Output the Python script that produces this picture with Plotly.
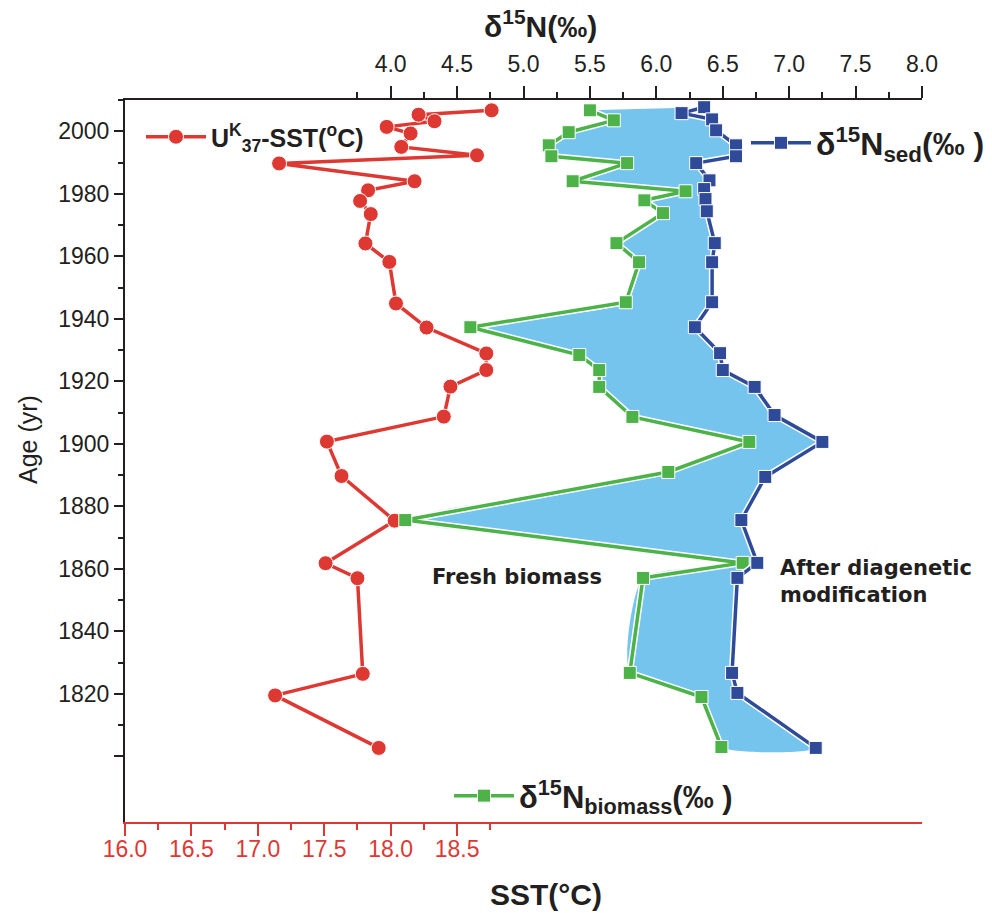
import plotly.graph_objects as go

# ---- U37K sea-surface temperature (bottom axis) ----
sst_age = [2006.7, 2005.3, 2003.2, 2001.4, 1999.3, 1995.0, 1992.3, 1989.7, 1984.0, 1981.1,
           1977.7, 1973.5, 1964.1, 1958.2, 1944.9, 1937.2, 1928.9, 1923.6, 1918.3, 1908.7,
           1900.7, 1889.7, 1875.4, 1861.8, 1857.0, 1826.4, 1819.5, 1802.7]
sst = [18.76, 18.21, 18.33, 17.97, 18.15, 18.08, 18.65, 17.16, 18.18, 17.83,
       17.77, 17.85, 17.81, 17.99, 18.04, 18.27, 18.72, 18.72, 18.45, 18.40,
       17.52, 17.63, 18.03, 17.51, 17.75, 17.79, 17.13, 17.91]

# ---- bulk sediment d15N (top axis) ----
sed_age = [2007.7, 2005.8, 2003.8, 2000.3, 1995.5, 1992.0, 1989.8, 1984.3, 1981.5, 1978.3,
           1974.4, 1964.2, 1958.1, 1945.3, 1937.3, 1929.0, 1923.6, 1918.2, 1909.2, 1900.6,
           1889.4, 1875.6, 1861.9, 1857.1, 1826.7, 1820.3, 1802.7]
d15n_sed = [6.36, 6.19, 6.42, 6.45, 6.60, 6.60, 6.30, 6.40, 6.36, 6.37,
            6.38, 6.44, 6.42, 6.42, 6.29, 6.48, 6.50, 6.74, 6.89, 7.25,
            6.82, 6.64, 6.76, 6.61, 6.57, 6.61, 7.20]

# ---- fresh biomass d15N (top axis) ----
bio_age = [2006.7, 2003.5, 1999.7, 1995.5, 1992.0, 1989.8, 1984.0, 1980.8, 1977.9, 1973.8,
           1964.2, 1958.1, 1945.3, 1937.3, 1928.4, 1923.6, 1918.2, 1908.6, 1900.6, 1891.0,
           1875.6, 1861.9, 1857.1, 1826.7, 1819.0, 1803.0]
d15n_bio = [5.50, 5.68, 5.34, 5.19, 5.21, 5.78, 5.37, 6.22, 5.91, 6.05,
            5.70, 5.87, 5.77, 4.60, 5.42, 5.57, 5.57, 5.82, 6.70, 6.09,
            4.11, 6.65, 5.90, 5.80, 6.34, 6.49]

# ---- axis ticks ----
age_ticks = list(range(1800, 2001, 20))
age_labels = ["" if a == 1800 else str(a) for a in age_ticks]
age_minor = list(range(1810, 2011, 20))
n_ticks = [4.0, 4.5, 5.0, 5.5, 6.0, 6.5, 7.0, 7.5, 8.0]
n_minor = [3.75, 4.25, 4.75, 5.25, 5.75, 6.25, 6.75, 7.25, 7.75]
sst_ticks = [16.0, 16.5, 17.0, 17.5, 18.0, 18.5]
sst_minor = [16.25, 16.75, 17.25, 17.75, 18.25, 18.75]

RED = "#DE3832"
GREEN = "#4DB248"
BLUE = "#2F4A98"
FILL = "#74C4EE"
INK = "#231F20"
BASE_FONT = "Liberation Sans, Arial, sans-serif"

fig = go.Figure()

# diagenetic offset band between fresh biomass and sediment
fig.add_trace(go.Scatter(
    x=d15n_bio + d15n_sed[::-1], y=bio_age + sed_age[::-1],
    xaxis="x2", yaxis="y", mode="lines", fill="toself", fillcolor=FILL,
    line=dict(width=0, shape="spline", smoothing=0.6, color=FILL),
    showlegend=False, hoverinfo="skip"))

# SST profile
fig.add_trace(go.Scatter(
    x=sst, y=sst_age, xaxis="x", yaxis="y", mode="lines+markers",
    name="<b>U<sup>K</sup><sub>37</sub>-SST(<sup>o</sup>C)</b>",
    line=dict(color=RED, width=3.5),
    marker=dict(symbol="circle", size=15, color=RED, line=dict(color="white", width=1)),
    legend="legend"))

# biomass profile with white halo
fig.add_trace(go.Scatter(
    x=d15n_bio, y=bio_age, xaxis="x2", yaxis="y", mode="lines",
    line=dict(color="white", width=6.5), showlegend=False, hoverinfo="skip"))
fig.add_trace(go.Scatter(
    x=d15n_bio, y=bio_age, xaxis="x2", yaxis="y", mode="lines+markers",
    name="<b>δ<sup>15</sup>N<sub>biomass</sub>(‰ )</b>",
    line=dict(color=GREEN, width=3.5),
    marker=dict(symbol="square", size=13, color=GREEN, line=dict(color="white", width=1)),
    legend="legend3"))

# sediment profile with white halo
fig.add_trace(go.Scatter(
    x=d15n_sed, y=sed_age, xaxis="x2", yaxis="y", mode="lines",
    line=dict(color="white", width=6.5), showlegend=False, hoverinfo="skip"))
fig.add_trace(go.Scatter(
    x=d15n_sed, y=sed_age, xaxis="x2", yaxis="y", mode="lines+markers",
    name="<b>δ<sup>15</sup>N<sub>sed</sub>(‰ )</b>",
    line=dict(color=BLUE, width=3.5),
    marker=dict(symbol="square", size=13, color=BLUE, line=dict(color="white", width=1)),
    legend="legend2"))

W, H = 992, 913
L, R, T, B = 125, 70, 100, 91
pw, ph = W - L - R, H - T - B


def px(x):
    return (x - L) / pw


def py(y):
    return (H - B - y) / ph


fig.update_layout(
    width=W, height=H,
    margin=dict(l=L, r=R, t=T, b=B, pad=0, autoexpand=False),
    paper_bgcolor="white", plot_bgcolor="white",
    font=dict(family=BASE_FONT, color=INK, size=22),
    xaxis=dict(
        range=[16, 22], side="bottom", anchor="y",
        showline=True, linecolor=RED, linewidth=2, showgrid=False, zeroline=False,
        tickmode="array", tickvals=sst_ticks, ticktext=[f"{v:.1f}" for v in sst_ticks],
        ticks="outside", ticklen=12, tickwidth=2, tickcolor=RED,
        ticklabelstandoff=-7,
        tickfont=dict(color=RED, size=23, family=BASE_FONT),
        minor=dict(tickmode="array", tickvals=sst_minor, ticks="outside",
                   ticklen=6, tickwidth=2, tickcolor=RED, showgrid=False),
    ),
    xaxis2=dict(
        range=[2, 8], side="top", overlaying="x", anchor="y",
        showline=True, linecolor=INK, linewidth=2, showgrid=False, zeroline=False,
        tickmode="array", tickvals=n_ticks, ticktext=[f"{v:.1f}" for v in n_ticks],
        ticks="outside", ticklen=12, tickwidth=2, tickcolor=INK,
        ticklabelstandoff=5,
        tickfont=dict(color=INK, size=23, family=BASE_FONT),
        minor=dict(tickmode="array", tickvals=n_minor, ticks="outside",
                   ticklen=6, tickwidth=2, tickcolor=INK, showgrid=False),
    ),
    yaxis=dict(
        range=[1779, 2010], anchor="x",
        showline=True, linecolor=INK, linewidth=2, showgrid=False, zeroline=False,
        tickmode="array", tickvals=age_ticks, ticktext=age_labels,
        ticks="outside", ticklen=9, tickwidth=2, tickcolor=INK,
        tickfont=dict(color=INK, size=23, family=BASE_FONT),
        minor=dict(tickmode="array", tickvals=age_minor, ticks="outside",
                   ticklen=5, tickwidth=2, tickcolor=INK, showgrid=False),
    ),
    legend=dict(
        x=px(141), y=py(137), xanchor="left", yanchor="middle",
        bgcolor="rgba(0,0,0,0)", itemwidth=60,
        font=dict(family=BASE_FONT, size=25, color=INK),
    ),
    legend2=dict(
        x=px(746), y=py(143), xanchor="left", yanchor="middle",
        bgcolor="rgba(0,0,0,0)", itemwidth=60,
        font=dict(family=BASE_FONT, size=32, color=INK),
    ),
    legend3=dict(
        x=px(449), y=py(796), xanchor="left", yanchor="middle",
        bgcolor="rgba(0,0,0,0)", itemwidth=60,
        font=dict(family=BASE_FONT, size=31, color=INK),
    ),
    annotations=[
        dict(text="<b>δ<sup>15</sup>N(‰)</b>", x=px(540), y=py(24), xref="paper", yref="paper",
             showarrow=False, xanchor="center", yanchor="middle",
             font=dict(size=30, color=INK, family=BASE_FONT)),
        dict(text="<b>SST(°C)</b>", x=px(546), y=py(894), xref="paper", yref="paper",
             showarrow=False, xanchor="center", yanchor="middle",
             font=dict(size=30, color=INK, family=BASE_FONT)),
        dict(text="Age (yr)", x=px(28), y=py(440), xref="paper", yref="paper",
             showarrow=False, xanchor="center", yanchor="middle", textangle=-90,
             font=dict(size=25, color=INK, family=BASE_FONT)),
        dict(text="<b>Fresh biomass</b>", x=px(430), y=py(577), xref="paper", yref="paper",
             showarrow=False, xanchor="left", yanchor="middle",
             font=dict(size=21, color=INK, family="DejaVu Sans, sans-serif")),
        dict(text="<b>After diagenetic<br>modification</b>", x=px(778), y=py(581),
             xref="paper", yref="paper", showarrow=False, xanchor="left", yanchor="middle",
             align="left", font=dict(size=21, color=INK, family="DejaVu Sans, sans-serif")),
    ],
)

fig.write_html("out.html")
